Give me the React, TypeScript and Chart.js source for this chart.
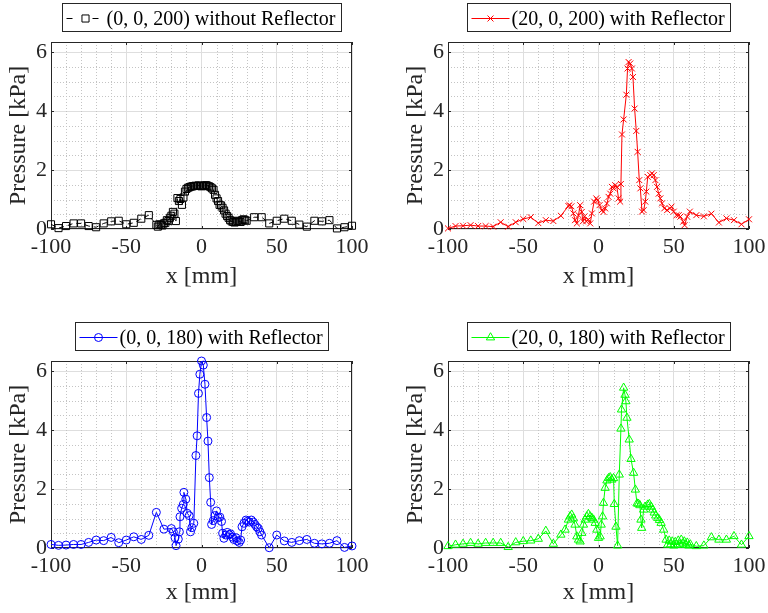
import React, { useEffect, useRef } from 'react';
import { Chart, registerables } from 'chart.js';

Chart.register(...registerables);

// ---------- axes ----------
const X_TICKS = [-100, -50, 0, 50, 100];
const Y_TICKS = [0, 2, 4, 6];
const X_MINOR = [-90, -80, -70, -60, -40, -30, -20, -10, 10, 20, 30, 40, 60, 70, 80, 90];
const Y_MINOR = [0.5, 1, 1.5, 2.5, 3, 3.5, 4.5, 5, 5.5];
const X_MIN = -100;
const X_MAX = 100;
const Y_MIN = 0;
const Y_MAX = 6.35;
const X_TITLE = 'x [mm]';
const Y_TITLE = 'Pressure [kPa]';

// ---------- (0, 0, 200) without Reflector ----------
const TL_LABEL = '(0, 0, 200) without Reflector';
const TL_X = [-100, -95, -90, -85, -80, -75, -70, -65, -60, -55, -50, -45, -40, -35,
  -30, -29, -28, -27, -26, -25, -24, -23, -22, -21, -20, -19, -18, -17, -16, -15, -14, -13, -12, -11,
  -10, -9, -8, -7, -6, -5, -4, -3, -2, -1, 0, 1, 2, 3, 4, 5, 6, 7, 8, 9, 10, 11, 12, 13, 14, 15,
  16, 17, 18, 19, 20, 21, 22, 23, 24, 25, 26, 27, 28, 29, 30,
  35, 40, 45, 50, 55, 60, 65, 70, 75, 80, 85, 90, 95, 100];
const TL_P = [0.16, 0.03, 0.10, 0.19, 0.19, 0.10, 0.06, 0.19, 0.26, 0.28, 0.16, 0.21, 0.35, 0.47,
  0.14, 0.08, 0.16, 0.14, 0.12, 0.19, 0.21, 0.30, 0.27, 0.38, 0.45, 0.58, 0.52, 0.27, 1.05, 0.95, 1.02, 0.82, 1.07, 1.27,
  1.36, 1.40, 1.42, 1.44, 1.45, 1.46, 1.47, 1.46, 1.48, 1.47, 1.45, 1.46, 1.47, 1.49, 1.47, 1.45, 1.42, 1.38, 1.33, 1.16, 1.04, 0.95, 0.82, 0.80, 0.72, 0.63,
  0.52, 0.44, 0.38, 0.30, 0.26, 0.24, 0.22, 0.25, 0.28, 0.26, 0.24, 0.30, 0.33, 0.30, 0.28,
  0.40, 0.40, 0.19, 0.28, 0.35, 0.28, 0.15, 0.08, 0.28, 0.26, 0.30, 0.02, 0.06, 0.11];

// ---------- (20, 0, 200) with Reflector ----------
const TR_LABEL = '(20, 0, 200) with Reflector';
const TR_X = [-100, -95, -90, -85, -80, -75, -70, -65, -60, -55, -50, -45, -40, -35, -30, -25, -20,
  -19.3, -18, -16.7, -15.6, -14.4, -13.3, -12.2, -11.1, -10.4, -9.3, -8.2, -6.7, -5.5, -4.4, -2.9, -1.5, -0.6,
  0.7, 2.2, 3.3, 4.4, 5.6, 6.7, 7.8, 8.9, 10, 11.1, 12.2, 13.3, 14.4, 14.9, 15.6, 16.7, 18.5, 19.3, 20,
  21.1, 22.2, 22.9, 24, 25.1, 26, 27.1, 27.8, 28.9, 30, 31.1, 31.8, 32.7, 34.4, 35.5, 36.7, 37.8, 38.9,
  40, 41.1, 42.2, 43.7, 45.6, 47.4, 48.5, 50, 51.9, 53.3, 54.4, 56.3, 57.2, 58.9, 60.7,
  65, 70, 75, 80, 85, 90, 95, 100];
const TR_P = [0.02, 0.10, 0.11, 0.13, 0.10, 0.10, 0.08, 0.23, 0.08, 0.23, 0.34, 0.40, 0.20, 0.30, 0.27, 0.45, 0.78,
  0.81, 0.77, 0.53, 0.30, 0.19, 0.47, 0.81, 0.58, 0.26, 0.43, 0.26, 0.32, 0.19, 0.53, 0.93, 1.04, 0.98,
  0.81, 0.64, 0.58, 0.70, 0.87, 1.09, 1.20, 1.43, 1.38, 1.49, 1.43, 1.04, 0.93, 1.53, 3.21, 3.72, 4.56, 5.45, 5.67,
  5.62, 5.45, 5.16, 4.09, 3.33, 2.62, 1.66, 1.38, 0.59, 0.64, 0.93, 1.27, 1.77, 1.83, 1.89, 1.83, 1.66, 1.43,
  1.20, 1.04, 0.87, 0.70, 0.64, 0.70, 0.76, 0.59, 0.47, 0.47, 0.42, 0.25, 0.13, 0.42, 0.59,
  0.47, 0.43, 0.52, 0.22, 0.36, 0.30, 0.16, 0.33];

// ---------- (0, 0, 180) with Reflector ----------
const BL_LABEL = '(0, 0, 180) with Reflector';
const BL_X = [-100, -95, -90, -85, -80, -75, -70, -65, -60, -55, -50, -45, -40, -35, -30, -25, -20,
  -18.7, -17.6, -16.9, -15.4, -14.7, -14.3, -13.2, -12.1, -11.7, -10.4, -9.5, -8.2, -7.3, -6.4, -5.1,
  -3.7, -2.9, -2.0, -1.1, 0, 1.2, 2.3, 3.4, 4.3, 5.2, 6.1, 6.7, 7.8, 8.9, 10, 11.1, 12.2, 13.3, 14, 14.9,
  16.2, 17.1, 18.4, 19.3, 20.6, 21.5, 22.9, 23.8, 25.1, 26, 26.9, 28.2, 29.6, 30.7, 31.8, 33.1, 34.4,
  35.5, 36.6, 37.7, 38.8, 39.9, 45, 50, 55, 60, 65, 70, 75, 80, 85, 90, 95, 100];
const BL_P = [0.12, 0.09, 0.10, 0.12, 0.12, 0.19, 0.27, 0.25, 0.36, 0.18, 0.27, 0.38, 0.29, 0.43, 1.21, 0.64, 0.66,
  0.55, 0.35, 0.08, 0.30, 0.55, 1.06, 1.35, 1.48, 1.89, 1.66, 1.18, 1.10, 0.55, 0.69, 0.84,
  3.14, 3.81, 5.25, 5.90, 6.35, 6.21, 5.56, 4.43, 3.63, 2.39, 1.55, 0.80, 0.93, 1.10, 1.26, 1.03, 1.05, 0.90, 0.50, 0.33,
  0.44, 0.53, 0.45, 0.48, 0.37, 0.29, 0.35, 0.24, 0.19, 0.27, 0.72, 0.84, 0.95, 0.91, 0.88, 0.95, 0.88,
  0.80, 0.72, 0.67, 0.55, 0.44, 0.01, 0.44, 0.24, 0.19, 0.25, 0.29, 0.16, 0.14, 0.16, 0.25, 0.02, 0.07];

// ---------- (20, 0, 180) with Reflector ----------
const BR_LABEL = '(20, 0, 180) with Reflector';
const BR_X = [-100, -95, -90, -85, -80, -75, -70, -65, -60, -55, -50, -45, -40, -35, -30, -25,
  -22.2, -20, -18.9, -17.8, -16.7, -15.6, -14.4, -13.3, -12.2, -11.1, -10, -8.9, -7.8, -6.7, -5.5, -4.4,
  -3.3, -2.2, -1.1, 0, 1.1, 1.8, 2.7, 3.3, 4.4, 5.6, 6.7, 7.8, 8.9, 10, 10.5, 11.6, 12.7, 13.8, 14.9,
  15.3, 16.7, 17.6, 18.2, 18.9, 20.4, 21.6, 23.3, 24.5, 25.6, 26.5, 27.5, 28.2, 28.7, 30, 31, 32.7, 33.8,
  35, 36, 37, 38, 39.3, 40.5, 41.6, 43.3, 44.9, 46, 47, 48, 49, 50, 51, 52, 53, 54, 55, 56, 57, 58, 59, 60, 61,
  65, 70, 75, 80, 85, 90, 95, 100];
const BR_P = [0.06, 0.11, 0.14, 0.17, 0.14, 0.17, 0.17, 0.17, 0.03, 0.19, 0.23, 0.25, 0.31, 0.58, 0.14, 0.45,
  0.62, 0.96, 1.07, 1.13, 1.00, 0.79, 0.39, 0.28, 0.22, 0.51, 0.79, 0.96, 1.07, 1.15, 1.07, 1.02,
  0.96, 0.85, 0.62, 0.34, 0.39, 0.79, 1.07, 1.53, 2.04, 2.29, 2.37, 2.40, 2.32, 2.37, 1.49, 0.72, 0.08, 2.49, 4.05,
  4.70, 5.44, 5.20, 4.98, 4.42, 3.68, 3.02, 2.55, 1.98, 1.51, 1.50, 1.45, 0.96, 0.68, 1.30, 1.40, 1.47, 1.49,
  1.40, 1.30, 1.20, 1.10, 1.02, 0.95, 0.85, 0.62, 0.28, 0.11, 0.25, 0.12, 0.22, 0.08, 0.20, 0.10, 0.25, 0.12, 0.28, 0.15, 0.22, 0.10, 0.18, 0.08, 0.12,
  0.06, 0.08, 0.36, 0.28, 0.28, 0.40, 0.11, 0.40];

// ---------- style ----------
const FONT = '"Liberation Serif", "Times New Roman", serif';
const AXIS_COLOR = '#262626';
const MAJOR_GRID = '#dedede';
const MINOR_GRID = '#c4c4c4';
const CW = 382;
const CH = 294;

type Spec = {
  id: string;
  left: number;
  top: number;
  xs: number[];
  ys: number[];
  label: string;
  color: string;
  pointStyle: string;
  radius: number;
  dash: number[];
  legendDash: number[];
  titlePad: number;
};

const PANELS: Spec[] = [
  { id: 'tl', left: 0, top: 0, xs: TL_X, ys: TL_P, label: TL_LABEL, color: '#000000', pointStyle: 'rect', radius: 5, dash: [5, 4], legendDash: [6, 20], titlePad: 3 },
  { id: 'tr', left: 397, top: 0, xs: TR_X, ys: TR_P, label: TR_LABEL, color: '#ff0000', pointStyle: 'crossRot', radius: 4.2, dash: [], legendDash: [], titlePad: 3 },
  { id: 'bl', left: 0, top: 319, xs: BL_X, ys: BL_P, label: BL_LABEL, color: '#0000ff', pointStyle: 'circle', radius: 4, dash: [], legendDash: [], titlePad: 6 },
  { id: 'br', left: 397, top: 319, xs: BR_X, ys: BR_P, label: BR_LABEL, color: '#00ff00', pointStyle: 'triangle', radius: 4.8, dash: [], legendDash: [], titlePad: 6 },
];

function drawMarker(ctx: CanvasRenderingContext2D, style: string, x: number, y: number, r: number, color: string) {
  ctx.save();
  ctx.beginPath();
  ctx.strokeStyle = color;
  ctx.lineWidth = 1;
  ctx.setLineDash([]);
  if (style === 'rect') {
    const s = r * Math.SQRT1_2;
    ctx.rect(x - s, y - s, 2 * s, 2 * s);
  } else if (style === 'circle') {
    ctx.arc(x, y, r, 0, Math.PI * 2);
  } else if (style === 'triangle') {
    let a = 0;
    ctx.moveTo(x + Math.sin(a) * r, y - Math.cos(a) * r);
    a += (2 * Math.PI) / 3;
    ctx.lineTo(x + Math.sin(a) * r, y - Math.cos(a) * r);
    a += (2 * Math.PI) / 3;
    ctx.lineTo(x + Math.sin(a) * r, y - Math.cos(a) * r);
    ctx.closePath();
  } else {
    const d = r * Math.SQRT1_2;
    ctx.moveTo(x - d, y - d);
    ctx.lineTo(x + d, y + d);
    ctx.moveTo(x - d, y + d);
    ctx.lineTo(x + d, y - d);
  }
  ctx.stroke();
  ctx.restore();
}

const matlabPlugin = {
  id: 'matlabBox',
  beforeDatasetsDraw(chart: any) {
    const { ctx, chartArea: a, scales } = chart;
    const xs = scales.x;
    const ys = scales.y;
    ctx.save();
    ctx.strokeStyle = MINOR_GRID;
    ctx.lineWidth = 1;
    ctx.setLineDash([1, 2]);
    X_MINOR.forEach((v) => {
      const p = Math.round(xs.getPixelForValue(v)) + 0.5;
      ctx.beginPath();
      ctx.moveTo(p, a.top);
      ctx.lineTo(p, a.bottom);
      ctx.stroke();
    });
    Y_MINOR.forEach((v) => {
      const p = Math.round(ys.getPixelForValue(v)) + 0.5;
      ctx.beginPath();
      ctx.moveTo(a.left, p);
      ctx.lineTo(a.right, p);
      ctx.stroke();
    });
    ctx.setLineDash([]);
    ctx.strokeStyle = AXIS_COLOR;
    ctx.lineWidth = 1;
    ctx.strokeRect(a.left + 0.5, a.top + 0.5, a.right - a.left - 1, a.bottom - a.top - 1);
    const tl = 3;
    ctx.beginPath();
    X_TICKS.forEach((v) => {
      const p = Math.round(xs.getPixelForValue(v)) + 0.5;
      ctx.moveTo(p, a.bottom);
      ctx.lineTo(p, a.bottom - tl);
      ctx.moveTo(p, a.top);
      ctx.lineTo(p, a.top + tl);
    });
    Y_TICKS.forEach((v) => {
      const p = Math.round(ys.getPixelForValue(v)) + 0.5;
      ctx.moveTo(a.left, p);
      ctx.lineTo(a.left + tl, p);
      ctx.moveTo(a.right, p);
      ctx.lineTo(a.right - tl, p);
    });
    ctx.stroke();
    ctx.restore();
  },
  afterDraw(chart: any, _args: any, opts: any) {
    const { ctx, chartArea: a } = chart;
    ctx.save();
    ctx.font = `20px ${FONT}`;
    const tw = ctx.measureText(opts.label).width;
    const bw = Math.round(44 + tw + 6);
    const bh = 28;
    const cx = (a.left + a.right) / 2;
    const bx = Math.round(cx - bw / 2) + 0.5;
    const by = a.top - 11 - bh + 0.5;
    ctx.fillStyle = '#ffffff';
    ctx.fillRect(bx, by, bw, bh);
    ctx.strokeStyle = AXIS_COLOR;
    ctx.lineWidth = 1;
    ctx.strokeRect(bx, by, bw, bh);
    const my = Math.round(by + bh / 2) + 0.5;
    ctx.strokeStyle = opts.color;
    ctx.setLineDash(opts.legendDash || []);
    ctx.beginPath();
    ctx.moveTo(bx + 4, my);
    ctx.lineTo(bx + 42, my);
    ctx.stroke();
    ctx.setLineDash([]);
    drawMarker(ctx, opts.pointStyle, bx + 23, my, opts.radius, opts.color);
    ctx.fillStyle = '#000000';
    ctx.textBaseline = 'middle';
    ctx.textAlign = 'left';
    ctx.fillText(opts.label, bx + 44, my + 1);
    ctx.restore();
  },
};

function makeConfig(spec: Spec): any {
  const data = spec.xs.map((x, i) => ({ x, y: spec.ys[i] }));
  const tickFont = { family: FONT, size: 22 };
  const titleFont = { family: FONT, size: 24 };
  return {
    type: 'scatter',
    data: {
      datasets: [
        {
          label: spec.label,
          data,
          showLine: true,
          borderColor: spec.color,
          backgroundColor: 'rgba(0,0,0,0)',
          borderWidth: 1,
          borderDash: spec.dash,
          pointStyle: spec.pointStyle,
          pointRadius: spec.radius,
          pointBorderColor: spec.color,
          pointBackgroundColor: 'rgba(0,0,0,0)',
          pointBorderWidth: 1,
          clip: false,
        },
      ],
    },
    options: {
      responsive: false,
      animation: false,
      devicePixelRatio: 1,
      layout: { padding: { left: 0, top: 42, right: 30, bottom: 0 } },
      plugins: {
        legend: { display: false },
        tooltip: { enabled: false },
        matlabBox: { label: spec.label, color: spec.color, pointStyle: spec.pointStyle, radius: spec.radius, legendDash: spec.legendDash },
      },
      scales: {
        x: {
          type: 'linear',
          min: X_MIN,
          max: X_MAX,
          afterFit: (s: any) => { s.height = 65; },
          afterBuildTicks: (s: any) => { s.ticks = X_TICKS.map((v) => ({ value: v })); },
          ticks: { font: tickFont, color: AXIS_COLOR, padding: 5, maxRotation: 0, autoSkip: false, callback: (v: any) => String(v) },
          grid: { color: MAJOR_GRID, drawTicks: false, lineWidth: 1 },
          border: { display: false },
          title: { display: true, text: X_TITLE, font: titleFont, color: AXIS_COLOR, padding: { top: 0, bottom: spec.titlePad } },
        },
        y: {
          type: 'linear',
          min: Y_MIN,
          max: Y_MAX,
          afterFit: (s: any) => { s.width = 51; },
          afterBuildTicks: (s: any) => { s.ticks = Y_TICKS.map((v) => ({ value: v })); },
          ticks: { font: tickFont, color: AXIS_COLOR, padding: 4, autoSkip: false, callback: (v: any) => String(v) },
          grid: { color: MAJOR_GRID, drawTicks: false, lineWidth: 1 },
          border: { display: false },
          title: { display: true, text: Y_TITLE, font: titleFont, color: AXIS_COLOR, padding: { top: 4, bottom: 0 } },
        },
      },
    },
    plugins: [matlabPlugin],
  };
}

function Panel({ spec }: { spec: Spec }) {
  const ref = useRef<HTMLCanvasElement>(null);
  useEffect(() => {
    if (!ref.current) return;
    const chart = new Chart(ref.current, makeConfig(spec));
    return () => chart.destroy();
  }, [spec]);
  return (
    <canvas
      ref={ref}
      width={CW}
      height={CH}
      style={{ position: 'absolute', left: spec.left, top: spec.top, width: CW, height: CH }}
    />
  );
}

export default function App() {
  return (
    <div style={{ position: 'fixed', left: 0, top: 0, width: 768, height: 613, overflow: 'hidden', background: '#ffffff' }}>
      {PANELS.map((p) => (
        <Panel key={p.id} spec={p} />
      ))}
    </div>
  );
}
